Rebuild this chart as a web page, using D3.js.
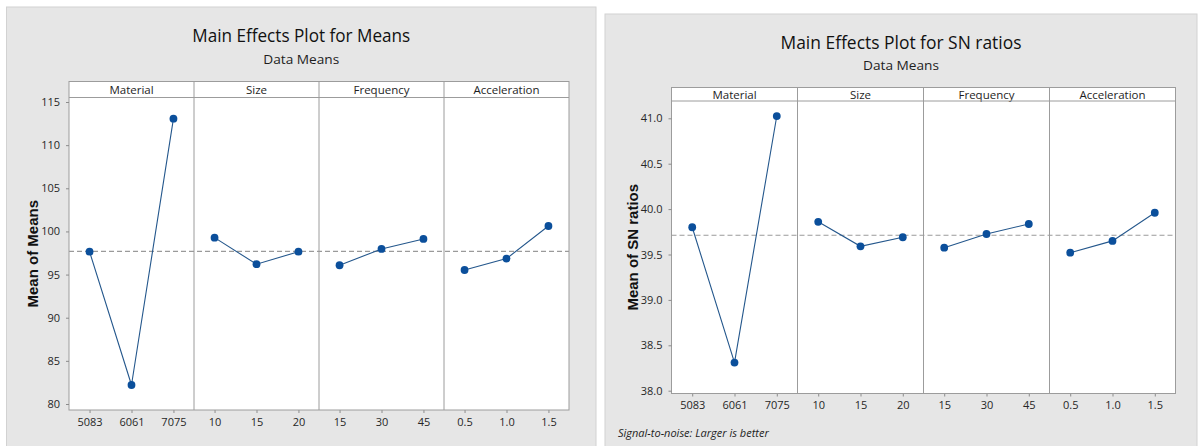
<!DOCTYPE html>
<html>
<head>
<meta charset="utf-8">
<script src="https://cdn.jsdelivr.net/npm/d3@7"></script>
<style>
  html, body { margin: 0; padding: 0; background: #ffffff; }
  svg { display: block; }
  text { fill: #1e1e1e; }
</style>
</head>
<body>
<svg id="chart" width="1199" height="446"></svg>
<script>
// Factors and their levels (shared by both plots)
const factors = ["Material", "Size", "Frequency", "Acceleration"];
const materialLevels = ["5083", "6061", "7075"];
const sizeLevels = ["10", "15", "20"];
const frequencyLevels = ["15", "30", "45"];
const accelerationLevels = ["0.5", "1.0", "1.5"];

// Level means of the response
const meansMaterial = [97.65, 82.2, 113.07];
const meansSize = [99.28, 96.2, 97.65];
const meansFrequency = [96.08, 97.97, 99.13];
const meansAcceleration = [95.53, 96.85, 100.63];

// Level means of the signal-to-noise ratios
const snMaterial = [39.80, 38.31, 41.025];
const snSize = [39.86, 39.59, 39.69];
const snFrequency = [39.575, 39.726, 39.836];
const snAcceleration = [39.52, 39.65, 39.96];

// Y tick values
const meansTicks = [80, 85, 90, 95, 100, 105, 110, 115];
const snTicks = [38.0, 38.5, 39.0, 39.5, 40.0, 40.5, 41.0];

const levelSets = [materialLevels, sizeLevels, frequencyLevels, accelerationLevels];

const SANS = "'Open Sans', 'Noto Sans', sans-serif";
const ARIAL = "'Liberation Sans', Arial, sans-serif";

const svg = d3.select("#chart");

function drawMainEffects(cfg) {
  const g = svg.append("g");
  const [bx0, by0, bx1, by1] = cfg.box;

  // grey frame of the graph
  g.append("rect")
    .attr("x", bx0).attr("y", by0)
    .attr("width", bx1 - bx0).attr("height", by1 - by0)
    .attr("fill", "#e6e6e6").attr("stroke", "#d2d2d2").attr("stroke-width", 1);

  const cx = (bx0 + bx1) / 2;
  g.append("text")
    .attr("x", cx).attr("y", cfg.titleY)
    .attr("text-anchor", "middle")
    .style("font-family", SANS).style("font-size", "18.5px")
    .style("fill", "#111")
    .attr("textLength", cfg.titleWidth)
    .attr("lengthAdjust", "spacingAndGlyphs")
    .text(cfg.title);
  g.append("text")
    .attr("x", cx).attr("y", cfg.subtitleY)
    .attr("text-anchor", "middle")
    .style("font-family", SANS).style("font-size", "13.5px")
    .attr("textLength", 76)
    .attr("lengthAdjust", "spacingAndGlyphs")
    .text("Data Means");

  const p = cfg.plot;
  const panelW = (p.right - p.left) / factors.length;

  const y = d3.scaleLinear().domain(cfg.yDomain).range(cfg.yRange);

  // white data area and strip
  g.append("rect")
    .attr("x", p.left).attr("y", p.stripTop)
    .attr("width", p.right - p.left).attr("height", p.bottom - p.stripTop)
    .attr("fill", "#ffffff");

  const grand = d3.mean(cfg.values.flat());

  // dashed grand-mean reference line
  g.append("line")
    .attr("x1", p.left).attr("x2", p.right)
    .attr("y1", y(grand)).attr("y2", y(grand))
    .attr("stroke", "#9a9a9a").attr("stroke-width", 1.2)
    .attr("stroke-dasharray", "5,3");

  factors.forEach((f, i) => {
    const x0 = p.left + i * panelW;
    const x = d3.scalePoint().domain(levelSets[i]).range([x0, x0 + panelW]).padding(0.49);

    // strip label
    g.append("text")
      .attr("x", x0 + panelW / 2).attr("y", (p.stripTop + p.top) / 2)
      .attr("text-anchor", "middle").attr("dominant-baseline", "central")
      .style("font-family", SANS).style("font-size", "11.5px")
      .text(f);

    const pts = levelSets[i].map((lv, j) => ({ lv, v: cfg.values[i][j] }));
    g.append("path")
      .datum(pts)
      .attr("fill", "none")
      .attr("stroke", "#24578c").attr("stroke-width", 1.1)
      .attr("d", d3.line().x(d => x(d.lv)).y(d => y(d.v)));
    g.selectAll(null)
      .data(pts).enter().append("circle")
      .attr("cx", d => x(d.lv)).attr("cy", d => y(d.v))
      .attr("r", 3.9)
      .attr("fill", "#0b4f9b");

    // x axis for this panel
    const ax = g.append("g")
      .attr("transform", `translate(0,${p.bottom})`)
      .call(d3.axisBottom(x).tickSize(3).tickPadding(5));
    ax.select(".domain").remove();
    ax.selectAll(".tick line").attr("stroke", "#8c8c8c");
    ax.selectAll(".tick text")
      .style("font-family", SANS).style("font-size", "11px").style("fill", "#262626");
  });

  // panel frames, dividers and strip separator
  g.append("rect")
    .attr("x", p.left).attr("y", p.stripTop)
    .attr("width", p.right - p.left).attr("height", p.bottom - p.stripTop)
    .attr("fill", "none").attr("stroke", "#9c9c9c").attr("stroke-width", 1);
  g.append("line")
    .attr("x1", p.left).attr("x2", p.right)
    .attr("y1", p.top).attr("y2", p.top)
    .attr("stroke", "#9c9c9c");
  d3.range(1, factors.length).forEach(i => {
    const xx = p.left + i * panelW;
    g.append("line")
      .attr("x1", xx).attr("x2", xx)
      .attr("y1", p.stripTop).attr("y2", p.bottom)
      .attr("stroke", "#9c9c9c");
  });

  // y axis
  const ay = g.append("g")
    .attr("transform", `translate(${p.left},0)`)
    .call(d3.axisLeft(y).tickValues(cfg.ticks).tickFormat(cfg.format).tickSize(3).tickPadding(6));
  ay.select(".domain").remove();
  ay.selectAll(".tick line").attr("stroke", "#8c8c8c");
  ay.selectAll(".tick text")
    .style("font-family", SANS).style("font-size", "11px").style("fill", "#262626");

  // y axis title
  g.append("text")
    .attr("transform", `translate(${cfg.ylabelX},${(p.top + p.bottom) / 2}) rotate(-90)`)
    .attr("text-anchor", "middle").attr("dominant-baseline", "central")
    .style("font-family", ARIAL).style("font-weight", "bold").style("font-size", "15px")
    .style("fill", "#111")
    .text(cfg.ylabel);

  if (cfg.footer) {
    g.append("text")
      .attr("x", cfg.footer.x).attr("y", cfg.footer.y)
      .style("font-family", SANS).style("font-size", "11px").style("font-style", "italic")
      .text(cfg.footer.text);
  }
}

drawMainEffects({
  box: [6.5, 7, 596, 452],
  title: "Main Effects Plot for Means",
  titleWidth: 218,
  titleY: 41.5,
  subtitleY: 63.5,
  plot: { left: 69, right: 569, stripTop: 81.5, top: 97.5, bottom: 410 },
  yDomain: [80, 115],
  yRange: [404, 102],
  ticks: meansTicks,
  format: d3.format("d"),
  values: [meansMaterial, meansSize, meansFrequency, meansAcceleration],
  ylabel: "Mean of Means",
  ylabelX: 32
});

drawMainEffects({
  box: [605, 14, 1197, 452],
  title: "Main Effects Plot for SN ratios",
  titleWidth: 241,
  titleY: 48.5,
  subtitleY: 70,
  plot: { left: 671.5, right: 1175.5, stripTop: 87.5, top: 101, bottom: 393.5 },
  yDomain: [38, 41],
  yRange: [390.7, 118.3],
  ticks: snTicks,
  format: d3.format(".1f"),
  values: [snMaterial, snSize, snFrequency, snAcceleration],
  ylabel: "Mean of SN ratios",
  ylabelX: 632,
  footer: { x: 618, y: 437, text: "Signal-to-noise: Larger is better" }
});
</script>
</body>
</html>
